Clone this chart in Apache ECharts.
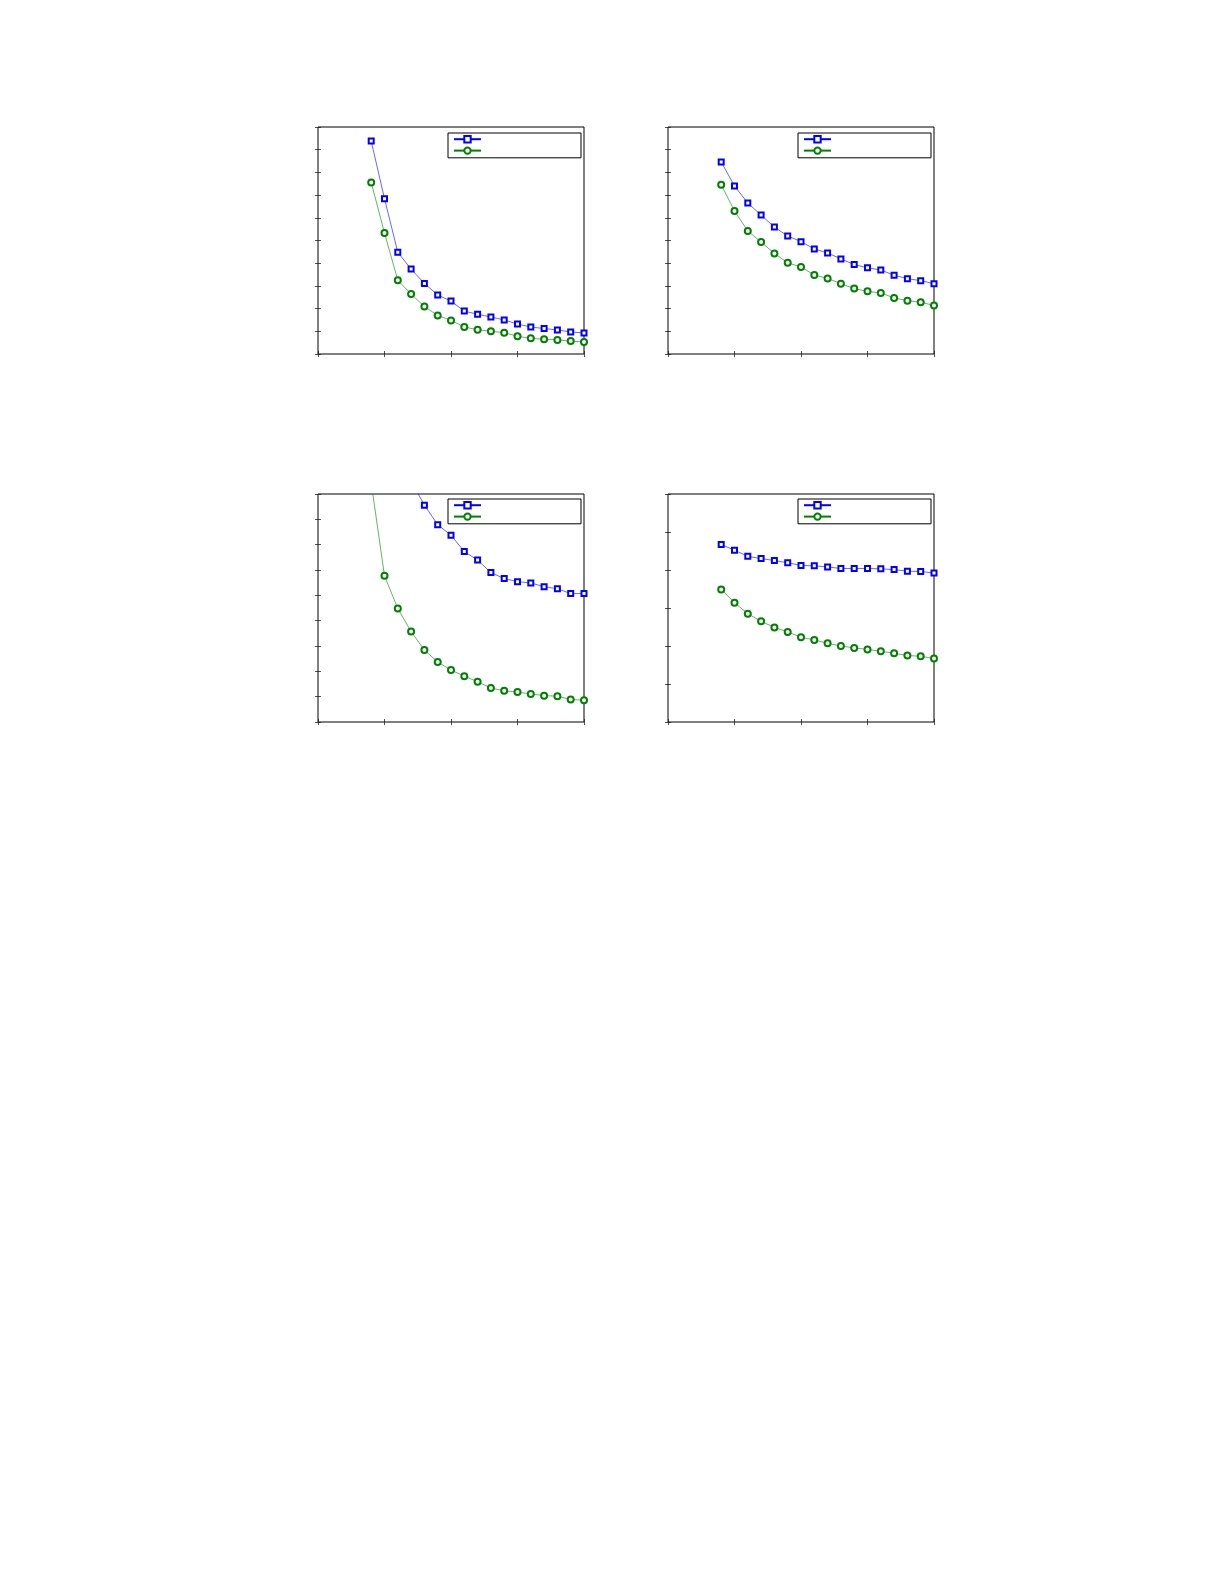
<!DOCTYPE html>
<html>
<head>
<meta charset="utf-8">
<script src="https://cdn.jsdelivr.net/npm/echarts@6/dist/echarts.min.js"></script>
<style>
  html, body { margin: 0; padding: 0; background: #fff; }
  #chart { width: 1225px; height: 1585px; }
</style>
</head>
<body>
<div id="chart"></div>
<script>
// shared x positions (axis runs 0..4)
const xs = [0.8, 1.0, 1.2, 1.4, 1.6, 1.8, 2.0, 2.2, 2.4, 2.6, 2.8, 3.0, 3.2, 3.4, 3.6, 3.8, 4.0];

// panel 1 (top left), y 0..10
const p1Blue  = [9.38, 6.84, 4.48, 3.74, 3.11, 2.60, 2.33, 1.89, 1.75, 1.63, 1.50, 1.32, 1.19, 1.12, 1.06, 0.97, 0.93];
const p1Green = [7.56, 5.33, 3.25, 2.64, 2.09, 1.70, 1.48, 1.19, 1.07, 1.00, 0.94, 0.78, 0.69, 0.65, 0.62, 0.57, 0.53];

// panel 2 (top right), y 0..10
const p2Blue  = [8.46, 7.40, 6.65, 6.12, 5.59, 5.20, 4.95, 4.63, 4.45, 4.19, 3.94, 3.80, 3.70, 3.47, 3.32, 3.23, 3.10];
const p2Green = [7.46, 6.30, 5.42, 4.93, 4.43, 4.02, 3.83, 3.48, 3.33, 3.10, 2.88, 2.76, 2.69, 2.47, 2.35, 2.28, 2.14];

// panel 3 (bottom left), y 0..9 -- first points run off the top
const p3Blue  = [14.0, 12.0, 10.6, 9.51, 8.56, 7.79, 7.37, 6.73, 6.39, 5.90, 5.66, 5.54, 5.49, 5.34, 5.26, 5.07, 5.07];
const p3Green = [9.45, 5.77, 4.48, 3.57, 2.84, 2.37, 2.05, 1.81, 1.59, 1.34, 1.23, 1.18, 1.11, 1.04, 1.02, 0.89, 0.86];

// panel 4 (bottom right), y 0..6
const p4Blue  = [4.67, 4.52, 4.36, 4.30, 4.25, 4.19, 4.12, 4.11, 4.08, 4.04, 4.04, 4.04, 4.03, 4.01, 3.97, 3.96, 3.92];
const p4Green = [3.49, 3.14, 2.85, 2.65, 2.49, 2.37, 2.23, 2.16, 2.07, 2.00, 1.95, 1.91, 1.86, 1.81, 1.75, 1.73, 1.67];

const panels = [
  { blue: p1Blue, green: p1Green, yMax: 10, left: 318, top: 127, height: 227 },
  { blue: p2Blue, green: p2Green, yMax: 10, left: 668, top: 127, height: 227 },
  { blue: p3Blue, green: p3Green, yMax: 9,  left: 318, top: 494, height: 228 },
  { blue: p4Blue, green: p4Green, yMax: 6,  left: 668, top: 494, height: 228 }
];
const WIDTH = 266;

const BLUE = '#0000ff';
const GREEN = '#008000';

const pairs = arr => xs.map((x, i) => [x, arr[i]]);

const grid = [], xAxis = [], yAxis = [], series = [], legend = [];

const tickAxis = (extra) => Object.assign({
  type: 'value',
  axisLine: { show: false },
  axisTick: { show: true, inside: true, length: 3, lineStyle: { color: '#222', width: 0.8 } },
  axisLabel: { show: false },
  splitLine: { show: false }
}, extra);

panels.forEach((p, i) => {
  grid.push({
    left: p.left, top: p.top, width: WIDTH, height: p.height,
    show: true, borderColor: '#000', borderWidth: 1, backgroundColor: '#fff'
  });
  // bottom + top x axes, left + right y axes (box with ticks on all sides)
  xAxis.push(tickAxis({ gridIndex: i, min: 0, max: 4, interval: 1, position: 'bottom' }));
  xAxis.push(tickAxis({ gridIndex: i, min: 0, max: 4, interval: 1, position: 'top' }));
  yAxis.push(tickAxis({ gridIndex: i, min: 0, max: p.yMax, interval: 1, position: 'left' }));
  yAxis.push(tickAxis({ gridIndex: i, min: 0, max: p.yMax, interval: 1, position: 'right' }));

  const bName = 'blue' + i, gName = 'green' + i;
  series.push({
    name: bName, type: 'line', xAxisIndex: 2 * i, yAxisIndex: 2 * i,
    data: pairs(p.blue), clip: true, animation: false,
    symbol: 'emptyRect', symbolSize: 5,
    lineStyle: { color: BLUE, width: 0.6 },
    itemStyle: { color: BLUE, borderColor: BLUE, borderWidth: 1 }
  });
  series.push({
    name: gName, type: 'line', xAxisIndex: 2 * i, yAxisIndex: 2 * i,
    data: pairs(p.green), clip: true, animation: false,
    symbol: 'emptyCircle', symbolSize: 6,
    lineStyle: { color: GREEN, width: 0.6 },
    itemStyle: { color: GREEN, borderColor: '#2a8f2a', borderWidth: 0.7 }
  });

  legend.push({
    data: [bName, gName],
    orient: 'vertical',
    left: p.left + 130, top: p.top + (i < 2 ? 6 : 5),
    itemWidth: 27, itemHeight: 8, itemGap: 3,
    padding: [2, 95, 3, 5],
    borderColor: '#000', borderWidth: 1, backgroundColor: '#fff',
    formatter: () => '',
    textStyle: { fontSize: 8, lineHeight: 8 },
    selectedMode: false
  });
});

const chart = echarts.init(document.getElementById('chart'), null, { renderer: 'canvas' });
chart.setOption({
  backgroundColor: '#fff',
  animation: false,
  grid, xAxis, yAxis, series, legend
});
window.addEventListener('resize', () => chart.resize());
</script>
</body>
</html>
